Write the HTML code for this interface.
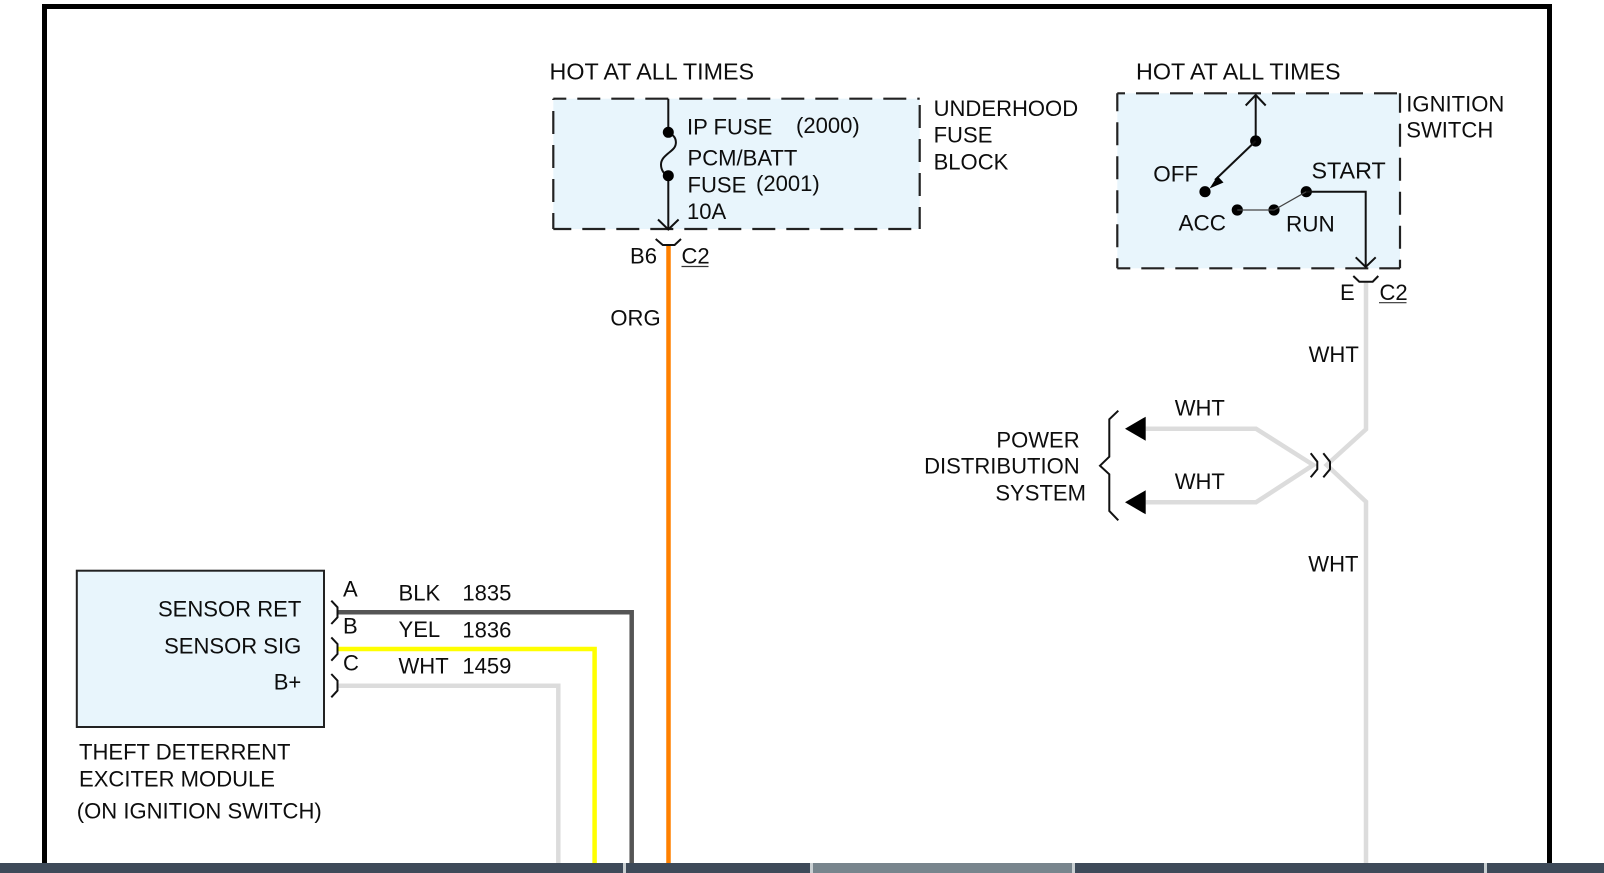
<!DOCTYPE html>
<html>
<head>
<meta charset="utf-8">
<style>
html,body{margin:0;padding:0;background:#fff;width:1604px;height:873px;overflow:hidden}
svg{display:block}
text{font-family:"Liberation Sans",Arial,sans-serif;font-size:22.05px;fill:#0d0d0d}
.h{font-size:23.3px}
.m{font-size:22.5px}
.e{text-anchor:end}
.w{fill:none;stroke-width:4.5;stroke-linejoin:miter}
.k{fill:none;stroke:#111;stroke-width:2}
.d{fill:none;stroke:#222;stroke-width:2.2;stroke-dasharray:23 11}
</style>
</head>
<body>
<svg width="1604" height="873" viewBox="0 0 1604 873" xmlns="http://www.w3.org/2000/svg">
<rect width="1604" height="873" fill="#fff"/>
<path d="M44.5 863V6.5H1549.5V863" fill="none" stroke="#000" stroke-width="5"/>

<!-- fills -->
<rect x="553.3" y="98.7" width="366.4" height="130.3" fill="#e8f5fc"/>
<rect x="1117.3" y="93.3" width="282.7" height="175" fill="#e8f5fc"/>
<rect x="76.8" y="570.7" width="247.2" height="156.3" fill="#e8f5fc" stroke="#222" stroke-width="2"/>

<!-- dashed boxes -->
<path class="d" stroke-dashoffset="10" d="M553.3 98.7H919.7"/>
<path class="d" stroke-dashoffset="5" d="M553.3 229H919.7"/>
<path class="d" stroke-dashoffset="21.7" d="M553.3 98.7V229"/>
<path class="d" stroke-dashoffset="27.7" d="M919.7 98.7V229"/>
<path class="d" stroke-dashoffset="15.3" d="M1117.3 93.3H1400"/>
<path class="d" stroke-dashoffset="10" d="M1117.3 268.3H1400"/>
<path class="d" stroke-dashoffset="5" d="M1117.3 93.3V268.3"/>
<path class="d" stroke-dashoffset="3.6" d="M1400 93.3V268.3"/>

<!-- wires -->
<path class="w" stroke="#ff8000" d="M668.5 245V863"/>
<path class="w" stroke="#555" d="M337.5 612.3H631.7V863"/>
<path class="w" stroke="#ffff00" d="M337.5 649H594.6V863"/>
<path class="w" stroke="#dcdcdc" d="M337.5 685.7H558.3V863"/>
<path class="w" stroke="#dcdcdc" d="M1366 281.7V429.3L1326.7 465L1366 501.7V863"/>
<path class="w" stroke="#dcdcdc" d="M1145.7 428.7H1256L1313.3 465L1256 502.3H1145.7"/>

<!-- fuse -->
<path class="k" d="M668.3 98.7V132.3M668.3 175.7V229"/>
<path class="k" d="M668.3 132.7C673 134.5 675.9 138 675.9 142.5C675.9 148 671.5 150.5 668 153.5C664.5 156.5 661 159.5 661 164.5C661 170 664 174.5 668.3 175.7"/>
<circle cx="668.3" cy="132.3" r="5.5" fill="#000"/>
<circle cx="668.3" cy="175.7" r="5.5" fill="#000"/>
<path class="k" d="M658 219.5L668.3 229.5L678.6 219.5"/>
<path class="k" stroke-width="1.6" d="M655.7 239L662.8 245H674.6L681 239"/>

<!-- ignition switch -->
<path class="k" d="M1255.7 141V95"/>
<path class="k" d="M1245.7 105.5L1255.7 95L1265.7 105.5"/>
<circle cx="1255.7" cy="141" r="5.6" fill="#000"/>
<path class="k" stroke-width="2.3" d="M1255.7 141L1215 180"/>
<path d="M1209.5 188.5L1217.5 176L1223.5 182.5Z" fill="#000"/>
<circle cx="1205" cy="191.7" r="5.6" fill="#000"/>
<circle cx="1237.3" cy="210" r="5.6" fill="#000"/>
<circle cx="1274" cy="210" r="5.6" fill="#000"/>
<circle cx="1306.3" cy="191.7" r="5.6" fill="#000"/>
<path fill="none" stroke="#444" stroke-width="1.2" d="M1237.3 210H1274L1306.3 191.7"/>
<path class="k" d="M1306.3 191.7H1365.7V266.7"/>
<path class="k" d="M1355.7 257.3L1365.7 267L1375.7 257.3"/>
<path class="k" stroke-width="1.6" d="M1353.3 276L1359.3 281.7H1372.7L1378.3 276"/>

<!-- module connectors -->
<path class="k" stroke-width="1.6" d="M331.3 600.7L337.5 607.3V617.3L331.3 624"/>
<path class="k" stroke-width="1.6" d="M331.3 637.4L337.5 644V654L331.3 660.7"/>
<path class="k" stroke-width="1.6" d="M331.3 674L337.5 680.6V690.6L331.3 697.3"/>

<!-- splice -->
<path class="k" stroke-width="1.6" d="M1310.7 453.3L1317.3 461.7V469.3L1310.7 477.3"/>
<path class="k" stroke-width="1.6" d="M1323.3 453.3L1330 461.7V469.3L1323.3 477.3"/>
<path d="M1125 428.7L1145.7 416.7V440.7Z" fill="#000"/>
<path d="M1125 502.3L1145.7 490.3V514.3Z" fill="#000"/>
<path class="k" stroke-width="1.6" d="M1118.3 410.7L1109.3 419.3V456.7L1100 465.7L1109.3 474.3V511L1118.3 520.3"/>

<!-- labels -->
<text class="h" x="549.5" y="79.3">HOT AT ALL TIMES</text>
<text class="h" x="1136" y="79.3">HOT AT ALL TIMES</text>
<text x="687" y="134.7">IP FUSE</text>
<text x="796" y="133">(2000)</text>
<text x="687.5" y="165.3">PCM/BATT</text>
<text x="687.5" y="192.7">FUSE</text>
<text x="756" y="191">(2001)</text>
<text x="687" y="219">10A</text>
<text x="933.6" y="116">UNDERHOOD</text>
<text x="933.6" y="142.7">FUSE</text>
<text x="933.6" y="169.3">BLOCK</text>
<text x="630" y="263.7">B6</text>
<text x="681.5" y="263.7">C2</text>
<path d="M681.5 266.5H708.5" stroke="#333" stroke-width="1.2"/>
<text x="610.4" y="325.7">ORG</text>
<text x="1406.3" y="111.3">IGNITION</text>
<text x="1406.3" y="137.7">SWITCH</text>
<text class="m" x="1153.3" y="181.7">OFF</text>
<text class="h" x="1311.5" y="178.3">START</text>
<text class="m" x="1178.5" y="230.7">ACC</text>
<text class="m" x="1286" y="231.7">RUN</text>
<text x="1340" y="300">E</text>
<text x="1379.5" y="300">C2</text>
<path d="M1379 302.7H1406.5" stroke="#333" stroke-width="1.2"/>
<text x="1308.6" y="362">WHT</text>
<text x="1174.7" y="415.7">WHT</text>
<text x="1174.7" y="489">WHT</text>
<text x="1308.3" y="571.7">WHT</text>
<text class="e" x="1079.7" y="447.7">POWER</text>
<text class="e" x="1079.7" y="473.3">DISTRIBUTION</text>
<text class="e" x="1086" y="500.3">SYSTEM</text>
<text class="e" x="301.3" y="616.7">SENSOR RET</text>
<text class="e" x="301.3" y="653.3">SENSOR SIG</text>
<text class="e" x="301.3" y="689.3">B+</text>
<text x="343" y="596.7">A</text>
<text x="343" y="633.3">B</text>
<text x="343" y="670.3">C</text>
<text x="398.5" y="600.7">BLK</text>
<text x="462.4" y="600.7">1835</text>
<text x="398.5" y="637">YEL</text>
<text x="462.4" y="637.7">1836</text>
<text x="398.5" y="673.5">WHT</text>
<text x="462.4" y="673.5">1459</text>
<text x="79" y="759.3">THEFT DETERRENT</text>
<text x="79" y="786.7">EXCITER MODULE</text>
<text x="76.8" y="818.3">(ON IGNITION SWITCH)</text>

<!-- bottom bar -->
<rect x="0" y="863" width="1604" height="10" fill="#3e4a59"/>
<rect x="813" y="863" width="259" height="10" fill="#78858d"/>
<rect x="623" y="863" width="3" height="10" fill="#c9cfd2"/>
<rect x="810" y="863" width="3" height="10" fill="#c9cfd2"/>
<rect x="1072" y="863" width="3" height="10" fill="#c9cfd2"/>
<rect x="1484" y="863" width="3" height="10" fill="#c9cfd2"/>
</svg>
</body>
</html>
